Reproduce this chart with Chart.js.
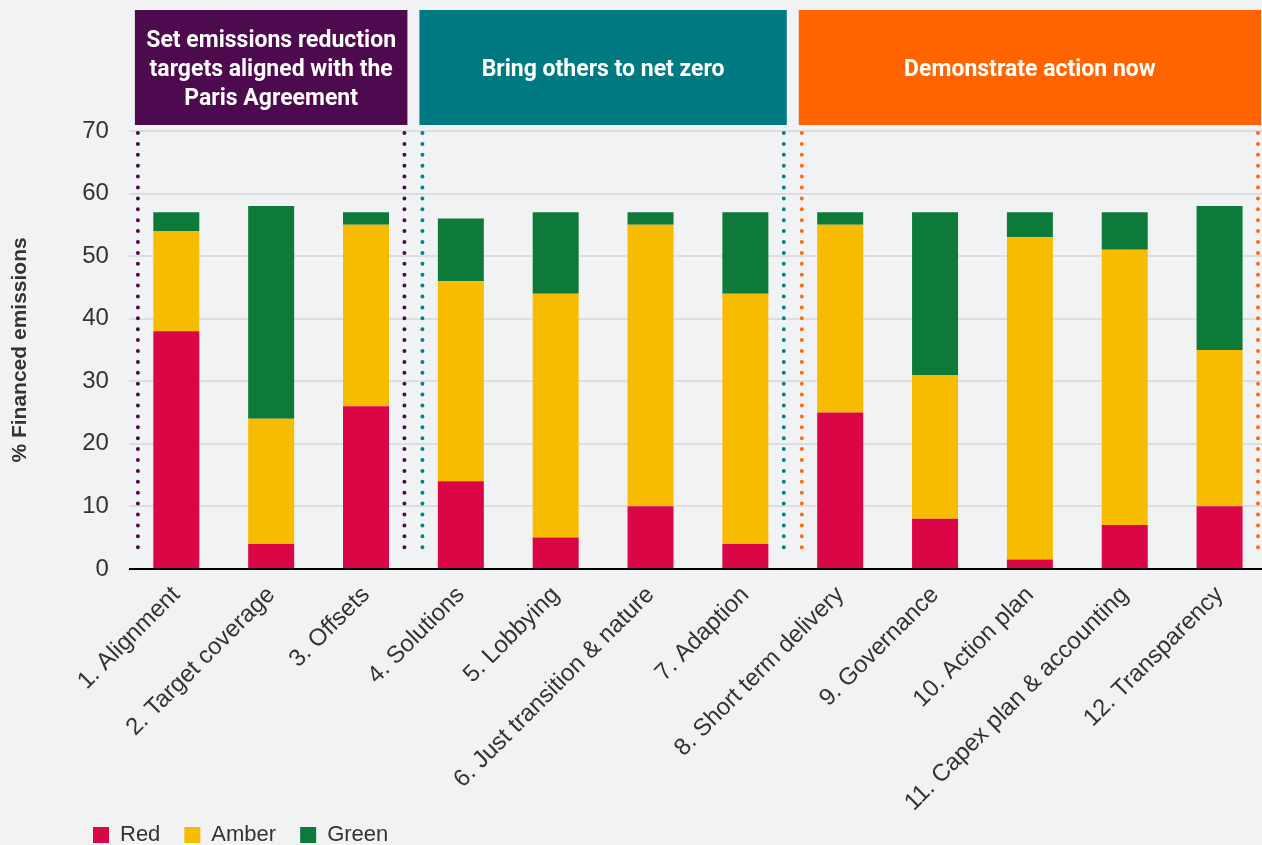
<!DOCTYPE html>
<html>
<head>
<meta charset="utf-8">
<script src="https://cdn.jsdelivr.net/npm/chart.js@4"></script>
<style>
  html, body { margin: 0; padding: 0; background: #f1f2f4; overflow: hidden; }
  #wrap { width: 1267px; height: 845px; position: relative; }
</style>
</head>
<body>
<div id="wrap"><canvas id="bar-chart"></canvas></div>
<script>
var categories = ["1. Alignment", "2. Target coverage", "3. Offsets", "4. Solutions", "5. Lobbying",
    "6. Just transition & nature", "7. Adaption", "8. Short term delivery", "9. Governance",
    "10. Action plan", "11. Capex plan & accounting", "12. Transparency"];

var redValues   = [38, 4, 26, 14, 5, 10, 4, 25, 8, 1.5, 7, 10];
var amberValues = [16, 20, 29, 32, 39, 45, 40, 30, 23, 51.5, 44, 25];
var greenValues = [3, 34, 2, 10, 13, 2, 13, 2, 26, 4, 6, 23];

var yTicks = [0, 10, 20, 30, 40, 50, 60, 70];

// header groups: first and last category index of each
var groupLabels = [["Set emissions reduction", "targets aligned with the", "Paris Agreement"],
    ["Bring others to net zero"], ["Demonstrate action now"]];
var groupFirst = [0, 3, 7];
var groupLast = [2, 6, 11];
var groupColours = ["#4e0a4e", "#007a80", "#ff6400"];
var dotColours = ["#4e0a4e", "#00838a", "#ff6a13"];

var groupHeaders = {
    id: 'groupHeaders',
    beforeDatasetsDraw: function (chart) {
        var c = chart.ctx, x = chart.scales.x, area = chart.chartArea;
        var half = (x.getPixelForValue(1) - x.getPixelForValue(0)) / 2;
        c.save();
        for (var g = 0; g < groupLabels.length; g++) {
            var left = x.getPixelForValue(groupFirst[g]) - half;
            var right = x.getPixelForValue(groupLast[g]) + half;
            // box
            c.fillStyle = groupColours[g];
            c.fillRect(left + 6, 10, right - left - 12, area.top - 16);
            c.fillStyle = '#ffffff';
            c.font = "bold 23px Roboto";
            c.textAlign = 'center';
            c.textBaseline = 'middle';
            var lines = groupLabels[g];
            var mid = 13 + (area.top - 16) / 2;
            for (var i = 0; i < lines.length; i++) {
                c.fillText(lines[i], (left + right) / 2, mid + (i - (lines.length - 1) / 2) * 29);
            }
            // dotted lines
            c.strokeStyle = dotColours[g];
            c.lineWidth = 4;
            c.lineCap = 'round';
            c.setLineDash([0, 10.9]);
            [left + 9, right - 9].forEach(function (px) {
                c.beginPath();
                c.moveTo(px, area.top + 2);
                c.lineTo(px, area.bottom - 18);
                c.stroke();
            });
            c.setLineDash([]);
        }
        c.restore();
    },
    afterLayout: function (chart) {
        chart.legend.left = 69;
        chart.legend.top = chart.height - 45;
    }
};

Chart.defaults.font.family = "'Liberation Sans', Arial, sans-serif";
Chart.defaults.color = '#333333';

var ctx = document.getElementById("bar-chart");

var myChart = new Chart(ctx, {
    type: 'bar',
    data: {
        labels: categories,
        datasets: [{
            label: "Red",
            data: redValues,
            backgroundColor: "#da0646"
        }, {
            label: "Amber",
            data: amberValues,
            backgroundColor: "#f7bc00"
        }, {
            label: "Green",
            data: greenValues,
            backgroundColor: "#0d7a3a"
        }]
    },
    options: {
        responsive: true,
        maintainAspectRatio: false,
        animation: false,
        barPercentage: 0.485,
        categoryPercentage: 1,
        layout: {
            padding: { left: 0, right: 0, top: 131, bottom: -32 }
        },
        plugins: {
            legend: {
                position: 'bottom',
                align: 'start',
                labels: {
                    boxWidth: 16,
                    boxHeight: 16,
                    padding: 24,
                    font: { size: 22 },
                    color: '#333333'
                }
            },
            tooltip: { enabled: false }
        },
        scales: {
            x: {
                stacked: true,
                grid: { display: false },
                border: { display: false },
                ticks: {
                    autoSkip: false,
                    maxRotation: 45,
                    minRotation: 45,
                    padding: 4,
                    font: { size: 24 },
                    color: '#333333'
                }
            },
            y: {
                stacked: true,
                min: 0,
                max: 70,
                afterBuildTicks: function (axis) {
                    axis.ticks = yTicks.map(function (v) { return { value: v }; });
                },
                border: { display: false },
                grid: {
                    drawTicks: false,
                    color: function (context) {
                        return context.tick && context.tick.value === 0 ? '#000000' : '#dcdde1';
                    },
                    lineWidth: 2
                },
                ticks: {
                    padding: 20,
                    font: { size: 24 },
                    color: '#333333'
                },
                title: {
                    display: true,
                    text: '% Financed emissions',
                    font: { size: 21, weight: 'bold' },
                    color: '#333333',
                    padding: { top: 8, bottom: 29 }
                }
            }
        }
    },
    plugins: [groupHeaders]
});
</script>
</body>
</html>
